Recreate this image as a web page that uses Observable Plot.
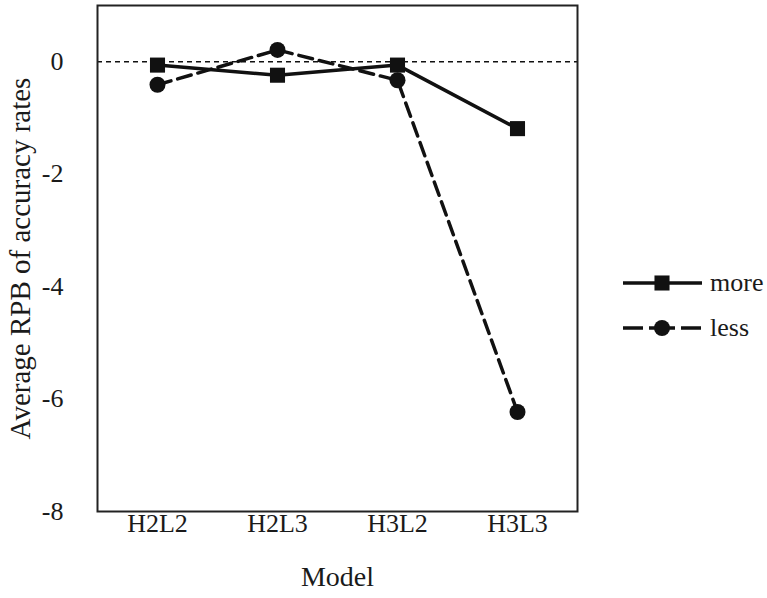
<!DOCTYPE html>
<html><head><meta charset="utf-8">
<script src="https://cdn.jsdelivr.net/npm/d3@7"></script>
<script src="https://cdn.jsdelivr.net/npm/@observablehq/plot@0.6"></script>
<style>
body{margin:0;background:#fff}
#wrap{position:relative;width:767px;height:598px;background:#fff}
#legend{position:absolute;left:610px;top:255px}
</style>
</head><body><div id="wrap"></div>
<script>
const models = ["H2L2", "H2L3", "H3L2", "H3L3"];
const moreValues = [-0.06, -0.24, -0.06, -1.19];
const lessValues = [-0.41, 0.21, -0.33, -6.23];
const seriesNames = ["more", "less"];
const yTicks = [0, -2, -4, -6, -8];
const xLabel = "Model";
const yLabel = "Average RPB of accuracy rates";

const more = models.map((m, i) => ({model: m, series: "more", value: moreValues[i]}));
const less = models.map((m, i) => ({model: m, series: "less", value: lessValues[i]}));
const font = "Liberation Serif";
const ink = "#111";
const dash = "14,7";

const chart = Plot.plot({
  width: 767, height: 598,
  marginLeft: 97, marginRight: 190, marginTop: 5, marginBottom: 87,
  style: {fontFamily: font, background: "#fff", color: "#1a1a1a"},
  x: {type: "point", domain: models, padding: 0.5, axis: null},
  y: {domain: [-8, 1], axis: null},
  marks: [
    Plot.ruleY([0], {stroke: ink, strokeWidth: 1.5, strokeDasharray: "5,4"}),
    Plot.line(more, {x: "model", y: "value", stroke: ink, strokeWidth: 3.5}),
    Plot.line(less, {x: "model", y: "value", stroke: ink, strokeWidth: 3.5, strokeDasharray: dash}),
    Plot.dot(more, {x: "model", y: "value", symbol: "square", r: 8.5, fill: ink, stroke: "none"}),
    Plot.dot(less, {x: "model", y: "value", symbol: "circle", r: 8, fill: ink, stroke: "none"}),
    Plot.frame({stroke: "#222", strokeWidth: 2}),
    Plot.axisX({tickSize: 0, tickPadding: 2, fontSize: 26, fontFamily: font, label: null, fill: "#1a1a1a"}),
    Plot.axisY({ticks: yTicks, tickSize: 0, tickPadding: 34, fontSize: 26, fontFamily: font, label: null, fill: "#1a1a1a", tickFormat: d => d < 0 ? "-" + Math.abs(d) : String(d)}),
    Plot.text([xLabel], {frameAnchor: "bottom", dy: 74, fontSize: 28, fontFamily: font, fill: "#1a1a1a"}),
    Plot.text([yLabel], {frameAnchor: "left", textAnchor: "middle", rotate: -90, dx: -77, fontSize: 29, fontFamily: font, fill: "#1a1a1a"})
  ]
});
const wrap = document.getElementById("wrap");
wrap.appendChild(chart);

// legend
const legend = d3.select(wrap).append("svg").attr("id", "legend").attr("width", 157).attr("height", 100)
  .attr("font-family", font);
const legendStyles = {more: {dash: null, symbol: d3.symbolSquare}, less: {dash: "20,6,26,6,20", symbol: d3.symbolCircle}};
seriesNames.forEach((name, i) => {
  const g = legend.append("g").attr("transform", `translate(0,${28 + i * 45})`);
  g.append("line").attr("x1", 13).attr("x2", 92).attr("y1", 0).attr("y2", 0)
    .attr("stroke", ink).attr("stroke-width", 3.5).attr("stroke-dasharray", legendStyles[name].dash);
  g.append("path").attr("transform", "translate(52,0)")
    .attr("d", d3.symbol(legendStyles[name].symbol, name === "more" ? Math.PI * 8.5 * 8.5 : Math.PI * 64)())
    .attr("fill", ink);
  g.append("text").attr("x", 100).attr("y", 0).attr("dy", "0.32em").attr("font-size", 26)
    .attr("font-family", font).attr("fill", "#1a1a1a").text(name);
});
</script>
</body></html>
